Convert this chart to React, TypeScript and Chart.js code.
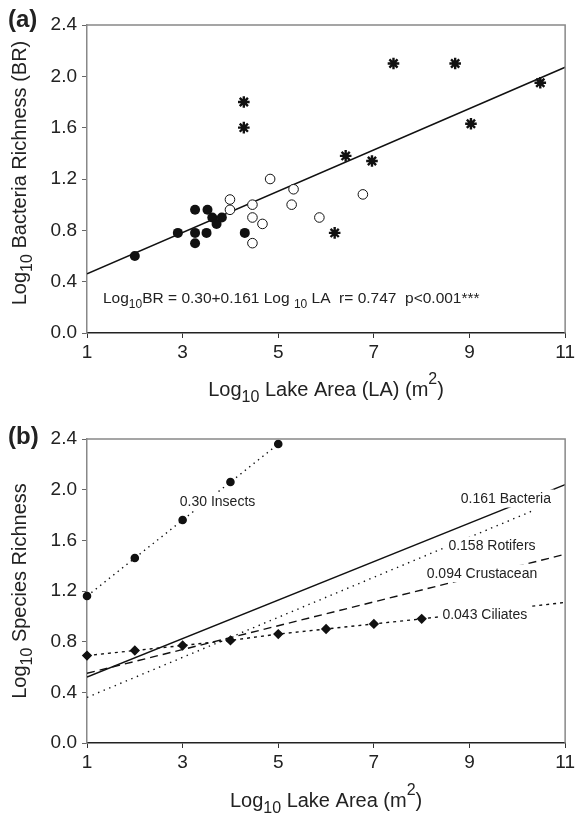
import React, { useEffect, useRef } from 'react';
import { Chart, registerables } from 'chart.js';

Chart.register(...registerables);

const FONT = '"Liberation Sans", Arial, Helvetica, sans-serif';
const TEXT = '#222';

// ---------- shared axis ticks ----------
const xTicks = [1, 3, 5, 7, 9, 11];
const xTickLabels = ['1', '3', '5', '7', '9', '11'];
const yTicks = [0, 0.4, 0.8, 1.2, 1.6, 2.0, 2.4];
const yTickLabels = ['0.0', '0.4', '0.8', '1.2', '1.6', '2.0', '2.4'];

// ---------- panel (a) ----------
const filledX = [2.0, 2.9, 3.26, 3.26, 3.26, 3.52, 3.5, 3.62, 3.71, 3.82, 4.3];
const filledY = [0.6, 0.78, 0.96, 0.78, 0.7, 0.96, 0.78, 0.9, 0.85, 0.9, 0.78];
const openX = [3.99, 3.99, 4.83, 4.46, 4.46, 4.46, 4.67, 5.32, 5.28, 5.86, 6.77];
const openY = [1.04, 0.96, 1.2, 1.0, 0.9, 0.7, 0.85, 1.12, 1.0, 0.9, 1.08];
const starX = [4.28, 4.28, 6.18, 6.41, 6.96, 7.41, 8.7, 9.03, 10.48];
const starY = [1.8, 1.6, 0.78, 1.38, 1.34, 2.1, 2.1, 1.63, 1.95];
const fitX = [1, 11];
const fitY = [0.461, 2.071];

// ---------- panel (b) ----------
const insectsX = [1, 2, 3, 4, 5];
const insectsY = [1.16, 1.46, 1.76, 2.06, 2.36];
const bacteriaX = [1, 11];
const bacteriaY = [0.52, 2.04];
const rotifersX = [1, 10.3];
const rotifersY = [0.36, 1.83];
const crustX = [1, 11];
const crustY = [0.55, 1.49];
const ciliatesX = [1, 2, 3, 4, 5, 6, 7, 8, 11];
const ciliatesY = [0.69, 0.73, 0.77, 0.81, 0.86, 0.9, 0.94, 0.98, 1.11];
const labelText = ['0.30 Insects', '0.161 Bacteria', '0.158 Rotifers', '0.094 Crustacean', '0.043 Ciliates'];
const labelX = [3.73, 9.76, 9.47, 9.26, 9.32];
const labelY = [1.91, 1.93, 1.56, 1.34, 1.02];

const pts = (xs: number[], ys: number[]) => xs.map((x, i) => ({ x, y: ys[i] }));

type Run = [string, number]; // 0 normal, 1 sub, 2 sup

function drawRich(
  ctx: CanvasRenderingContext2D,
  runs: Run[],
  x: number,
  y: number,
  size: number,
  align: 'left' | 'center',
  rotate = false
) {
  const f = (k: number) => `${k === 0 ? size : Math.round(size * 0.78)}px ${FONT}`;
  let w = 0;
  for (const [t, k] of runs) {
    ctx.font = f(k);
    w += ctx.measureText(t).width;
  }
  ctx.save();
  ctx.translate(x, y);
  if (rotate) ctx.rotate(-Math.PI / 2);
  ctx.textBaseline = 'alphabetic';
  ctx.textAlign = 'left';
  ctx.fillStyle = TEXT;
  let cx = align === 'center' ? -w / 2 : 0;
  for (const [t, k] of runs) {
    ctx.font = f(k);
    const dy = k === 1 ? size * 0.3 : k === 2 ? -size * 0.62 : 0;
    ctx.fillText(t, cx, dy);
    cx += ctx.measureText(t).width;
  }
  ctx.restore();
}

function makeScales(canvasH: number, bottom: number) {
  return {
    x: {
      type: 'linear' as const,
      min: 1,
      max: 11,
      afterBuildTicks: (s: any) => {
        s.ticks = xTicks.map((v) => ({ value: v }));
      },
      afterFit: (s: any) => {
        s.height = canvasH - bottom;
      },
      ticks: {
        callback: (_v: any, i: number) => xTickLabels[i],
        font: { family: FONT, size: 19 },
        color: TEXT,
        padding: 3,
        maxRotation: 0,
        autoSkip: false,
      },
      grid: { drawOnChartArea: false, drawTicks: true, tickLength: 5, color: '#333', lineWidth: 1 },
      border: { display: true, color: '#222', width: 1.5 },
      title: { display: false },
    },
    y: {
      type: 'linear' as const,
      min: 0,
      max: 2.4,
      afterBuildTicks: (s: any) => {
        s.ticks = yTicks.map((v) => ({ value: v }));
      },
      afterFit: (s: any) => {
        s.width = 87;
      },
      ticks: {
        callback: (_v: any, i: number) => yTickLabels[i],
        font: { family: FONT, size: 19 },
        color: TEXT,
        padding: 5,
        autoSkip: false,
      },
      grid: { drawOnChartArea: false, drawTicks: true, tickLength: 5, color: '#666', lineWidth: 1 },
      border: { display: true, color: '#888', width: 1.5 },
      title: { display: false },
    },
  };
}

function drawFrame(chart: any) {
  const { ctx, chartArea } = chart;
  ctx.save();
  ctx.strokeStyle = '#888';
  ctx.lineWidth = 1.5;
  ctx.beginPath();
  ctx.moveTo(chartArea.left, chartArea.top);
  ctx.lineTo(chartArea.right, chartArea.top);
  ctx.lineTo(chartArea.right, chartArea.bottom);
  ctx.stroke();
  ctx.restore();
}

function drawLetter(ctx: CanvasRenderingContext2D, t: string, x: number, y: number) {
  ctx.save();
  ctx.font = `bold 24px ${FONT}`;
  ctx.fillStyle = TEXT;
  ctx.textAlign = 'left';
  ctx.textBaseline = 'alphabetic';
  ctx.fillText(t, x, y);
  ctx.restore();
}

const HA = 412;
const HB = 403;

export default function App() {
  const refA = useRef<HTMLCanvasElement>(null);
  const refB = useRef<HTMLCanvasElement>(null);

  useEffect(() => {
    const decoA = {
      id: 'decoA',
      afterDraw(chart: any) {
        const { ctx, chartArea } = chart;
        drawFrame(chart);
        drawLetter(ctx, '(a)', 8, 27);
        const cx = (chartArea.left + chartArea.right) / 2;
        const cy = (chartArea.top + chartArea.bottom) / 2;
        drawRich(ctx, [['Log', 0], ['10', 1], [' Bacteria Richness (BR)', 0]], 26, cy - 6, 20, 'center', true);
        drawRich(ctx, [['Log', 0], ['10', 1], [' Lake Area (LA) (m', 0], ['2', 2], [')', 0]], cx, chartArea.bottom + 63, 20, 'center');
        drawRich(
          ctx,
          [['Log', 0], ['10', 1], ['BR = 0.30+0.161 Log ', 0], ['10', 1], [' LA  r= 0.747  p<0.001***', 0]],
          chartArea.left + 16,
          chartArea.bottom - 30,
          15.5,
          'left'
        );
      },
    };

    const decoB = {
      id: 'decoB',
      afterDatasetsDraw(chart: any) {
        const { ctx, scales } = chart;
        ctx.save();
        ctx.font = `14px ${FONT}`;
        ctx.textAlign = 'center';
        ctx.textBaseline = 'middle';
        labelText.forEach((t, i) => {
          const px = scales.x.getPixelForValue(labelX[i]);
          const py = scales.y.getPixelForValue(labelY[i]);
          const w = ctx.measureText(t).width;
          ctx.fillStyle = '#fff';
          ctx.fillRect(px - w / 2 - 3, py - 9, w + 6, 18);
          ctx.fillStyle = TEXT;
          ctx.fillText(t, px, py + 1);
        });
        ctx.restore();
      },
      afterDraw(chart: any) {
        const { ctx, chartArea } = chart;
        drawFrame(chart);
        drawLetter(ctx, '(b)', 8, 444 - HA);
        const cx = (chartArea.left + chartArea.right) / 2;
        const cy = (chartArea.top + chartArea.bottom) / 2;
        drawRich(ctx, [['Log', 0], ['10', 1], [' Species Richness', 0]], 26, cy, 20, 'center', true);
        drawRich(ctx, [['Log', 0], ['10', 1], [' Lake Area (m', 0], ['2', 2], [')', 0]], cx, chartArea.bottom + 64, 20, 'center');
      },
    };

    const common = {
      responsive: false,
      animation: false as const,
      events: [] as any[],
      plugins: { legend: { display: false }, tooltip: { enabled: false } },
    };

    const chartA = new Chart(refA.current!, {
      type: 'scatter',
      data: {
        datasets: [
          {
            data: pts(filledX, filledY),
            pointStyle: 'circle',
            pointRadius: 5,
            backgroundColor: '#111',
            borderColor: '#111',
            borderWidth: 0,
          },
          {
            data: pts(openX, openY),
            pointStyle: 'circle',
            pointRadius: 4.8,
            backgroundColor: '#fff',
            borderColor: '#111',
            borderWidth: 1,
          },
          {
            data: pts(starX, starY),
            pointStyle: 'star',
            pointRadius: 5.8,
            backgroundColor: '#111',
            borderColor: '#111',
            borderWidth: 2.4,
          },
          {
            data: pts(fitX, fitY),
            showLine: true,
            pointRadius: 0,
            borderColor: '#111',
            borderWidth: 1.6,
          },
        ] as any,
      },
      options: {
        ...common,
        layout: { padding: { top: 25, right: 12, left: 0, bottom: 0 } },
        scales: makeScales(HA, 333),
      } as any,
      plugins: [decoA],
    });

    const chartB = new Chart(refB.current!, {
      type: 'scatter',
      data: {
        datasets: [
          {
            data: pts(insectsX, insectsY),
            showLine: true,
            pointStyle: 'circle',
            pointRadius: 3.6,
            backgroundColor: '#111',
            borderColor: '#111',
            borderWidth: 1.4,
            borderDash: [1.4, 4.2],
            clip: false,
          },
          {
            data: pts(ciliatesX, ciliatesY),
            showLine: true,
            pointStyle: 'rectRot',
            pointRadius: ciliatesX.map((_, i) => (i < 8 ? 4.2 : 0)),
            backgroundColor: '#111',
            borderColor: '#111',
            borderWidth: 1.4,
            borderDash: [3, 4],
            clip: false,
          },
          {
            data: pts(bacteriaX, bacteriaY),
            showLine: true,
            pointRadius: 0,
            borderColor: '#111',
            borderWidth: 1.5,
          },
          {
            data: pts(rotifersX, rotifersY),
            showLine: true,
            pointRadius: 0,
            borderColor: '#111',
            borderWidth: 1.4,
            borderDash: [1.4, 4.6],
          },
          {
            data: pts(crustX, crustY),
            showLine: true,
            pointRadius: 0,
            borderColor: '#111',
            borderWidth: 1.4,
            borderDash: [8, 5],
          },
        ] as any,
      },
      options: {
        ...common,
        layout: { padding: { top: 439 - HA, right: 12, left: 0, bottom: 0 } },
        scales: makeScales(HB, 743 - HA),
      } as any,
      plugins: [decoB],
    });

    return () => {
      chartA.destroy();
      chartB.destroy();
    };
  }, []);

  return (
    <div style={{ position: 'absolute', left: 0, top: 0, width: 578, height: 815, background: '#fff' }}>
      <canvas ref={refA} width={578} height={HA} style={{ position: 'absolute', left: 0, top: 0 }} />
      <canvas ref={refB} width={578} height={HB} style={{ position: 'absolute', left: 0, top: HA }} />
    </div>
  );
}
